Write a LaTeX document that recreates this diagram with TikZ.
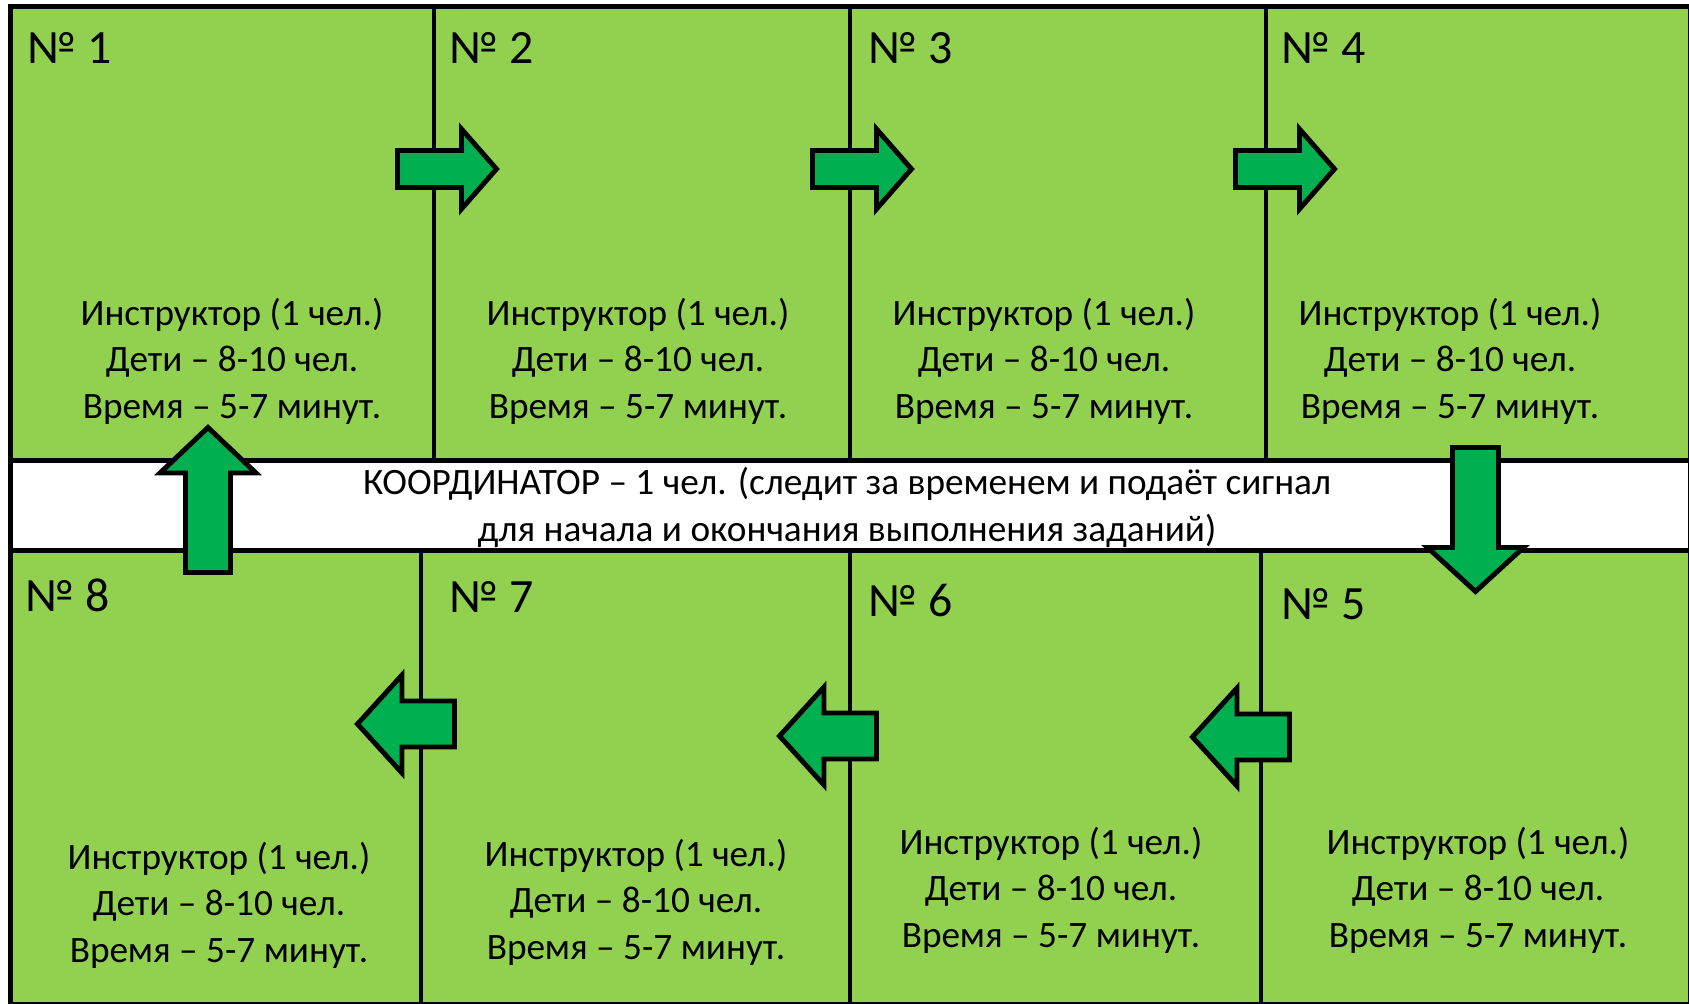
\documentclass[tikz,border=0pt]{standalone}
\usepackage{fontspec}
\setmainfont{Carlito}
\definecolor{cellgreen}{HTML}{92D050}
\definecolor{arrowgreen}{HTML}{00B050}
\begin{document}
\begin{tikzpicture}[x=0.1mm, y=-0.1mm,
% common options for the stations:
cell/.style = {fill=cellgreen, draw=black, line width=1.3pt},
band/.style = {fill=white, draw=black, line width=1.3pt},
% common options for the texts:
infotext/.style = {align=center, inner sep=0, font=\fontsize{10.6pt}{13.2pt}\selectfont},
numtext/.style = {anchor=base west, inner sep=0, font=\fontsize{13.6pt}{16pt}\selectfont},
% common options for the block arrows (length, head length, half shaft, half head):
arrowbox/.style = {draw=black, fill=arrowgreen, line width=1.4pt, line join=miter},
pics/blockarrow/.style n args={4}{code={
  \draw[arrowbox] (0,-#3) -- (#1-#2,-#3) -- (#1-#2,-#4) -- (#1,0)
    -- (#1-#2,#4) -- (#1-#2,#3) -- (0,#3) -- cycle;}}]
\useasboundingbox (0,0) rectangle (1689,1003);
\clip (0,0) rectangle (1689,1003);
\fill[white] (0,0) rectangle (1689,1003);
% stations
\draw[cell] (10.5,6.5) rectangle (434,460.5);
\draw[cell] (434,6.5) rectangle (850,460.5);
\draw[cell] (850,6.5) rectangle (1266,460.5);
\draw[cell] (1266,6.5) rectangle (1690,460.5);
\draw[band] (10.5,460.5) rectangle (1690,550.5);
\draw[cell] (10.5,550.5) rectangle (421,1004);
\draw[cell] (421,550.5) rectangle (850,1004);
\draw[cell] (850,550.5) rectangle (1261,1004);
\draw[cell] (1261,550.5) rectangle (1690,1004);
% numbers
\node[numtext] (N1) at (27,63) {№ 1};
\node[numtext] (N2) at (449,63) {№ 2};
\node[numtext] (N3) at (868,63) {№ 3};
\node[numtext] (N4) at (1281,63) {№ 4};
\node[numtext] (N8) at (25,611) {№ 8};
\node[numtext] (N7) at (449,612) {№ 7};
\node[numtext] (N6) at (868,616) {№ 6};
\node[numtext] (N5) at (1281,619) {№ 5};
% texts
\node[infotext] (T1) at (232,361) {Инструктор (1 чел.)\\Дети – 8-10 чел.\\Время – 5-7 минут.};
\node[infotext] (T2) at (638,361) {Инструктор (1 чел.)\\Дети – 8-10 чел.\\Время – 5-7 минут.};
\node[infotext] (T3) at (1044,361) {Инструктор (1 чел.)\\Дети – 8-10 чел.\\Время – 5-7 минут.};
\node[infotext] (T4) at (1450,361) {Инструктор (1 чел.)\\Дети – 8-10 чел.\\Время – 5-7 минут.};
\node[infotext] (T8) at (219,905) {Инструктор (1 чел.)\\Дети – 8-10 чел.\\Время – 5-7 минут.};
\node[infotext] (T7) at (636,902) {Инструктор (1 чел.)\\Дети – 8-10 чел.\\Время – 5-7 минут.};
\node[infotext] (T6) at (1051,890) {Инструктор (1 чел.)\\Дети – 8-10 чел.\\Время – 5-7 минут.};
\node[infotext] (T5) at (1478,890) {Инструктор (1 чел.)\\Дети – 8-10 чел.\\Время – 5-7 минут.};
\node[infotext] (coord) at (847,507.5) {КООРДИНАТОР – 1 чел. (следит за временем и подаёт сигнал\\для начала и окончания выполнения заданий)};
% arrows
\pic at (397.5,169) {blockarrow={99}{35}{18.5}{40}};
\pic at (812.5,169) {blockarrow={99}{35}{18.5}{40}};
\pic at (1235.5,169) {blockarrow={99}{35}{18.5}{40}};
\pic[rotate=-90] at (1475.5,447.5) {blockarrow={144}{44}{23}{48}};
\pic[rotate=180] at (1289.5,737) {blockarrow={97}{44.5}{23}{49}};
\pic[rotate=180] at (876.5,736) {blockarrow={97}{44.5}{23}{49}};
\pic[rotate=180] at (454.5,724) {blockarrow={97}{44.5}{23}{49}};
\pic[rotate=90] at (208,572.5) {blockarrow={145}{45.5}{22.5}{48}};
\end{tikzpicture}
\end{document}
